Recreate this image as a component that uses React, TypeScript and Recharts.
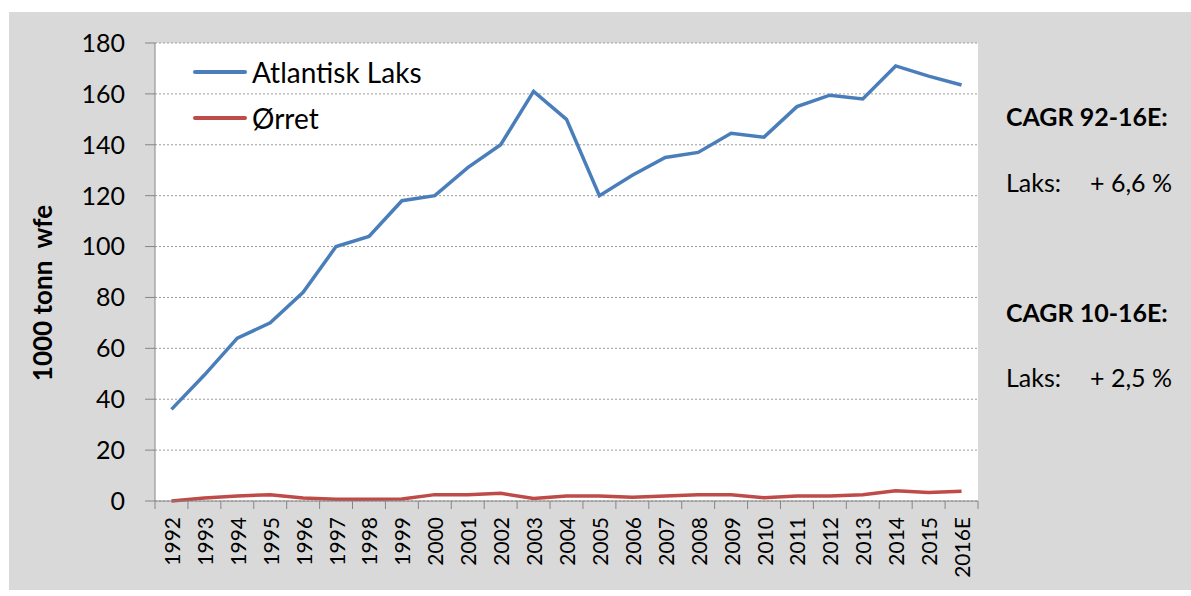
import React from "react"
import { LineChart, Line, XAxis, YAxis, CartesianGrid, Legend } from "recharts"

const years = [
  "1992", "1993", "1994", "1995", "1996", "1997", "1998", "1999", "2000", "2001",
  "2002", "2003", "2004", "2005", "2006", "2007", "2008", "2009", "2010", "2011",
  "2012", "2013", "2014", "2015", "2016E",
]
const laks = [36, 49.5, 64, 70, 82, 100, 104, 118, 120, 131, 140, 161, 150, 120, 128, 135, 137, 144.5, 143, 155, 159.5, 158, 171, 167, 163.5]
const orret = [0, 1.2, 2, 2.5, 1.2, 0.7, 0.7, 0.8, 2.5, 2.5, 3, 1, 2, 2, 1.5, 2, 2.5, 2.5, 1.3, 2, 2, 2.5, 4, 3.3, 3.8]
const yTicks = [0, 20, 40, 60, 80, 100, 120, 140, 160, 180]

const data = years.map((year, i) => ({ year, laks: laks[i], orret: orret[i] }))

const W = 1182
const H = 578
const PLOT_W = 823
const BAND = PLOT_W / years.length
const AXIS = "#868686"

const XTick = (props: any) => {
  const { x, y, payload, index } = props
  const top = y - 8
  return (
    <g>
      <line x1={x - BAND / 2} x2={x - BAND / 2} y1={top} y2={top + 8} stroke={AXIS} />
      {index === years.length - 1 && (
        <line x1={x + BAND / 2} x2={x + BAND / 2} y1={top} y2={top + 8} stroke={AXIS} />
      )}
      <text
        transform={`translate(${x},${y + 8}) rotate(-90)`}
        textAnchor="end"
        dominantBaseline="central"
        fontSize={21}
        fill="#000"
      >
        {payload.value}
      </text>
    </g>
  )
}

const renderLegend = (props: any) => (
  <div>
    {props.payload.map((p: any) => (
      <div key={p.value} style={{ display: "flex", alignItems: "center", height: 46 }}>
        <span style={{ width: 54, height: 4, borderRadius: 2, background: p.color, marginRight: 5 }} />
        <span style={{ fontSize: 28, color: "#000" }}>{p.value}</span>
      </div>
    ))}
  </div>
)

const noteStyle = (top: number, left: number, bold: boolean): React.CSSProperties => ({
  position: "absolute", left, top: top - 16, height: 32, lineHeight: "32px",
  fontSize: 25, fontWeight: bold ? 700 : 400, whiteSpace: "pre",
})

export default function App() {
  return (
    <div style={{ position: "absolute", left: 9, top: 12, width: W, height: H, background: "#d9d9d9", fontFamily: "Lato, 'Open Sans', sans-serif", color: "#000" }}>
      <LineChart width={W} height={H} data={data} margin={{ top: 31, right: 213, left: 0, bottom: 0 }}>
        <CartesianGrid vertical={false} fill="#fff" stroke="#9a9a9a" strokeDasharray="2 2" />
        <XAxis
          dataKey="year"
          interval={0}
          height={89}
          padding={{ left: BAND / 2, right: BAND / 2 }}
          stroke={AXIS}
          tickLine={false}
          tickSize={8}
          tickMargin={0}
          tick={<XTick />}
        />
        <YAxis
          width={146}
          domain={[0, 180]}
          ticks={yTicks}
          interval={0}
          stroke={AXIS}
          tickSize={10}
          tickMargin={20}
          tick={{ fill: "#000", fontSize: 25 }}
        />
        <Legend
          layout="vertical"
          align="center"
          verticalAlign="middle"
          wrapperStyle={{ left: 184, top: 37, width: "auto" }}
          content={renderLegend}
        />
        <Line type="linear" dataKey="laks" name="Atlantisk Laks" stroke="#4a7ebb" strokeWidth={3.5} dot={false} isAnimationActive={false} />
        <Line type="linear" dataKey="orret" name="Ørret" stroke="#be4b48" strokeWidth={3.5} dot={false} isAnimationActive={false} />
      </LineChart>
      <div style={{ position: "absolute", left: 33, top: 281, transform: "translate(-50%, -50%) rotate(-90deg)", fontSize: 26, fontWeight: 700, whiteSpace: "pre" }}>
        1000 tonn  wfe
      </div>
      <div style={noteStyle(104, 997, true)}>CAGR 92-16E:</div>
      <div style={noteStyle(170, 997, false)}>Laks:</div>
      <div style={noteStyle(170, 1081, false)}>+ 6,6 %</div>
      <div style={noteStyle(300, 997, true)}>CAGR 10-16E:</div>
      <div style={noteStyle(365, 997, false)}>Laks:</div>
      <div style={noteStyle(365, 1081, false)}>+ 2,5 %</div>
    </div>
  )
}
